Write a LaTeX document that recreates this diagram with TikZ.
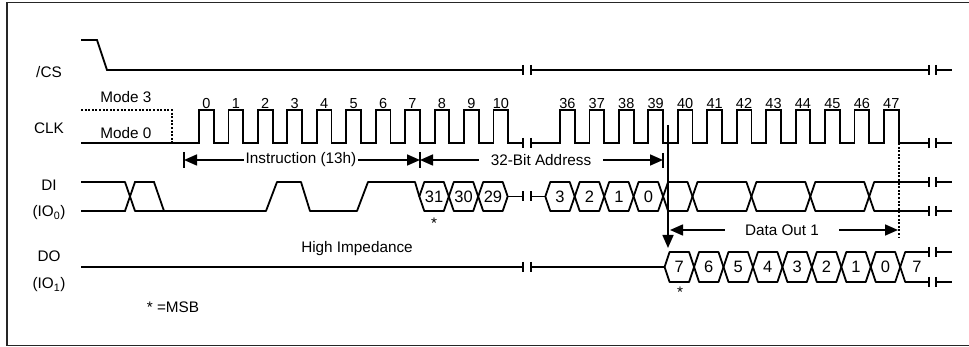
\documentclass[tikz,border=0pt]{standalone}
\usepackage{fontspec}
\setmainfont{Liberation Sans}
\usetikzlibrary{arrows.meta}

% two ticks where a line is broken off
\newcommand{\gapmark}[3]{\draw[wave] (#1,#3-5) -- (#1,#3+5) (#2,#3-5) -- (#2,#3+5);}
% one bus cell from #1 to #2, top #3, bottom #4
\newcommand{\buscell}[4]{\draw[bus] (#1,{(#3+#4)/2}) -- (#1+5,#3) -- (#2-5,#3) -- (#2,{(#3+#4)/2}) -- (#2-5,#4) -- (#1+5,#4) -- cycle;}

\begin{document}
\begin{tikzpicture}[x=1pt,y=-1pt]
\tikzstyle{wave}=[line width=1.8pt]
\tikzstyle{bus}=[line width=1.8pt,line join=round]
\tikzstyle{dots}=[line width=1.8pt,dash pattern=on 2pt off 1.6pt]
\tikzstyle{lbl}=[font=\fontsize{15.3}{18}\selectfont,inner sep=1pt]
\tikzstyle{num}=[font=\fontsize{14.5}{17}\selectfont,inner sep=0pt,anchor=base]
\tikzstyle{bit}=[font=\fontsize{16.5}{19}\selectfont,inner sep=0pt]
\tikzstyle{dim}=[line width=1.6pt,-{Triangle[length=13pt,width=11pt]}]
\useasboundingbox (0,0) rectangle (969,347);
\draw[line width=1.6pt,black!85] (975,2.5) -- (7,2.5) -- (7,345.5) -- (975,345.5);

% signal names
\node[lbl] (cs) at (49,72) {/CS};
\node[lbl] (clk) at (49,128) {CLK};
\node[lbl] (di) at (49,185) {DI};
\node[lbl] (io0) at (49,213) {(IO\textsubscript{0})};
\node[lbl] (do) at (49,256) {DO};
\node[lbl] (io1) at (49,285) {(IO\textsubscript{1})};
\node[lbl] (m3) at (126,97) {Mode 3};
\node[lbl] (m0) at (126,133) {Mode 0};
\node[lbl] (hiz) at (357,249) {High Impedance};
\node[lbl] (msb) at (173,307) {* =MSB};
\node[lbl] (s31) at (434,223) {*};
\node[lbl] (s7) at (680,292) {*};

% /CS
\draw[wave] (81,40) -- (97,40) -- (107,70) -- (523,70);
\draw[wave] (531,70) -- (929,70);
\draw[wave] (936,70) -- (952,70);
\gapmark{523}{531}{70}
\gapmark{929}{936}{70}

% CLK
\draw[dots] (81,110) -- (172,110) -- (172,143);
\draw[wave] (81,143) -- (199,143) \foreach \k in {0,...,10} { -- ++(0,-33) -- ++(14.7,0) -- ++(0,33) -- ++(14.75,0) };
\draw[wave] (531,143) -- (560,143) \foreach \k in {36,...,47} { -- ++(0,-33) -- ++(14.7,0) -- ++(0,33) -- ++(14.75,0) } -- (929,143);
\draw[wave] (936,143) -- (952,143);
\gapmark{523}{531}{143}
\gapmark{929}{936}{143}
\foreach \k in {0,...,10}
  \node[num] (ck\k) at ({199+\k*29.45+7.35},109) {\k};
\foreach \k in {36,...,47}
  \node[num] (ck\k) at ({560+(\k-36)*29.45+7.35},109) {\k};

% spans
\coordinate (i0) at (184,160);
\coordinate (i1) at (420,160);
\coordinate (a1) at (663,160);
\coordinate (o0) at (670,230);
\coordinate (o1) at (898,230);
\node[lbl,inner xsep=2pt] (ins) at (301,160) {Instruction (13h)};
\node[lbl,inner xsep=12pt] (adr) at (541,160) {32-Bit Address};
\node[lbl,inner xsep=20pt] (dout) at (782,230) {Data Out 1};
\draw[dim] (ins.west) -- (i0);
\draw[dim] (ins.east) -- (i1);
\draw[dim] (adr.west) -- (i1);
\draw[dim] (adr.east) -- (a1);
\draw[dim] (dout.west) -- (o0);
\draw[dim] (dout.east) -- (o1);
\draw[line width=1.6pt] (184,152) -- (184,168);
\draw[line width=1.6pt] (420,152) -- (420,168);
\draw[line width=1.6pt] (663,153) -- (663,168);
\draw[dots] (899,143) -- (899,238);
\coordinate (dn0) at (668,125);
\coordinate (dn1) at (668,248);
\draw[dim] (dn0) -- (dn1);

% DI
\draw[wave] (81,211) -- (125,211) -- (135,182) -- (154,182) -- (164,211);
\draw[bus] (81,182) -- (125,182) -- (135,211) -- (266,211) -- (277,182) -- (301,182) -- (310,211) -- (357,211) -- (368,182) -- (415,182) -- (419.3,196.5);
\foreach \a/\b/\t in {419.3/448.8/31,448.8/478.2/30,478.2/507.7/29,545.3/574.7/3,574.7/604.2/2,604.2/633.6/1,633.6/663.1/0}
  {\buscell{\a}{\b}{182}{211}
   \node[bit] (d\t) at ({(\a+\b)/2},196.5) {\t};}
\draw[wave] (507.7,196.5) -- (523,196.5);
\draw[wave] (531,196.5) -- (545.3,196.5);
\gapmark{523}{531}{196.5}
\foreach \a/\b in {663.1/692.5,692.5/751.4,751.4/810.3,810.3/869.2}
  {\buscell{\a}{\b}{182}{211}}
\draw[bus] (929,182) -- (874.2,182) -- (869.2,196.5) -- (874.2,211) -- (929,211);
\draw[wave] (936,182) -- (952,182);
\draw[wave] (936,211) -- (952,211);
\gapmark{929}{936}{182}
\gapmark{929}{936}{211}

% DO
\draw[wave] (81,267) -- (523,267);
\draw[wave] (531,267) -- (664.6,267);
\gapmark{523}{531}{267}
\foreach \k/\v in {0/7,1/6,2/5,3/4,4/3,5/2,6/1,7/0}
  {\buscell{664.6+\k*29.45}{664.6+\k*29.45+29.45}{252}{282}
   \node[bit] (q\k) at ({664.6+\k*29.45+14.7},267) {\v};}
\draw[bus] (929,252) -- (905.2,252) -- (900.2,267) -- (905.2,282) -- (929,282);
\node[bit] (q8) at (917,267) {7};
\draw[wave] (936,252) -- (952,252);
\draw[wave] (936,282) -- (952,282);
\gapmark{929}{936}{252}
\gapmark{929}{936}{282}
\end{tikzpicture}
\end{document}
